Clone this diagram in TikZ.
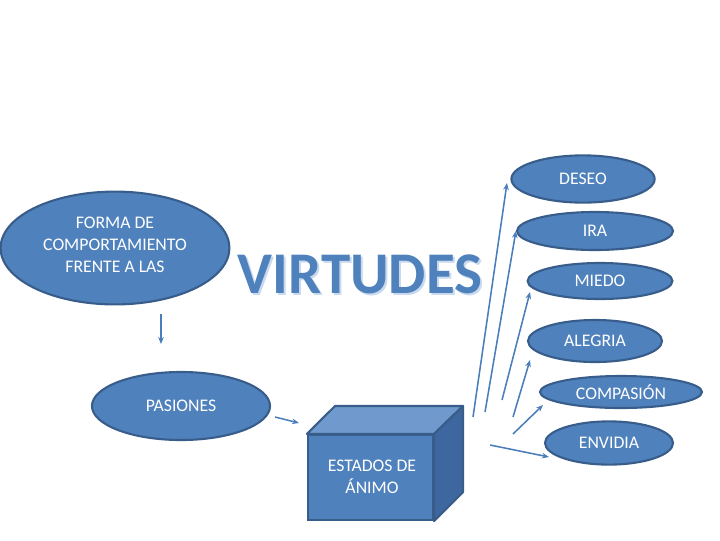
\documentclass[tikz,border=0pt]{standalone}
\usepackage{fontspec}
\setmainfont{Carlito}
\usetikzlibrary{shapes.geometric,arrows.meta}
\definecolor{fillblue}{HTML}{4F81BD}
\definecolor{edgeblue}{HTML}{385D8A}
\definecolor{lineblue}{HTML}{4A7EBB}
\definecolor{topblue}{HTML}{7099CD}
\definecolor{sideblue}{HTML}{3D679E}
\definecolor{shadowblue}{HTML}{C9D9EE}
\tikzset{
  oval/.style={ellipse, fill=fillblue, draw=edgeblue, line width=1.5pt, inner sep=0pt,
    text=white, font=\fontsize{12.6}{15.5}\selectfont, align=center},
  conn/.style={draw=lineblue, line width=1.1pt, -{Stealth[length=5pt,width=4pt]}},
}
\begin{document}
\begin{tikzpicture}[x=0.025cm,y=-0.025cm]
\useasboundingbox (0,0) rectangle (720,540);
% ellipses
\node[oval, minimum width=5.72cm, minimum height=2.82cm] (forma) at (115,248) {};
\node[text=white, font=\fontsize{12.6}{15.5}\selectfont, align=center] at (115,245) {FORMA DE\\COMPORTAMIENTO\\FRENTE A LAS};
\node[oval, minimum width=4.45cm, minimum height=1.7cm] (pasiones) at (181,406) {PASIONES};
\node[oval, minimum width=3.58cm, minimum height=1.18cm] (deseo) at (583,179) {DESEO};
\node[oval, minimum width=3.9cm, minimum height=0.95cm] (ira) at (595,231) {IRA};
\node[oval, minimum width=3.62cm, minimum height=0.9cm] (miedo) at (600,281) {MIEDO};
\node[oval, minimum width=3.35cm, minimum height=1.05cm] (alegria) at (595,341) {ALEGRIA};
\node[oval, minimum width=4.05cm, minimum height=0.8cm] (compasion) at (621,392) {COMPASIÓN};
\node[oval, minimum width=3.2cm, minimum height=1.08cm] (envidia) at (609,443) {ENVIDIA};
% title
\node[font=\fontsize{42}{48}\selectfont\bfseries, text=shadowblue] at (362,276) {VIRTUDES};
\node[font=\fontsize{42}{48}\selectfont\bfseries, text=fillblue] (virtudes) at (360,274) {VIRTUDES};
% box
\node[draw=edgeblue, fill=fillblue, line width=1.5pt, minimum width=3.125cm, minimum height=2.125cm, inner sep=0pt] (box) at (370.5,477.5) {};
\filldraw[fill=topblue, draw=edgeblue, line width=1.5pt, line join=round] (box.north west) -- (335,406) -- (463,406) -- (box.north east) -- cycle;
\filldraw[fill=sideblue, draw=edgeblue, line width=1.5pt, line join=round] (box.north east) -- (463,406) -- (463,492) -- (box.south east) -- cycle;
\node[text=white, font=\fontsize{12.6}{15.5}\selectfont, align=center] at (372,477) {ESTADOS DE\\ÁNIMO};
% connector endpoints
\coordinate (f1) at (161,314);
\coordinate (f2) at (161,344);
\coordinate (p1) at (275,417);
\coordinate (p2) at (299,423);
\coordinate (d1) at (473,417);
\coordinate (d2) at (507,183);
\coordinate (i1) at (485,412);
\coordinate (m1) at (502,400);
\coordinate (m2) at (530,292);
\coordinate (a1) at (513,417);
\coordinate (a2) at (530,360);
\coordinate (c1) at (513,434);
\coordinate (c2) at (543,405);
\coordinate (e1) at (490,445);
\coordinate (e2) at (549,457);
\draw[conn] (f1) -- (f2);
\draw[conn] (p1) -- (p2);
\draw[conn] (d1) -- (d2);
\draw[conn] (i1) -- (ira.west);
\draw[conn] (m1) -- (m2);
\draw[conn] (a1) -- (a2);
\draw[conn] (c1) -- (c2);
\draw[conn] (e1) -- (e2);
\end{tikzpicture}
\end{document}
